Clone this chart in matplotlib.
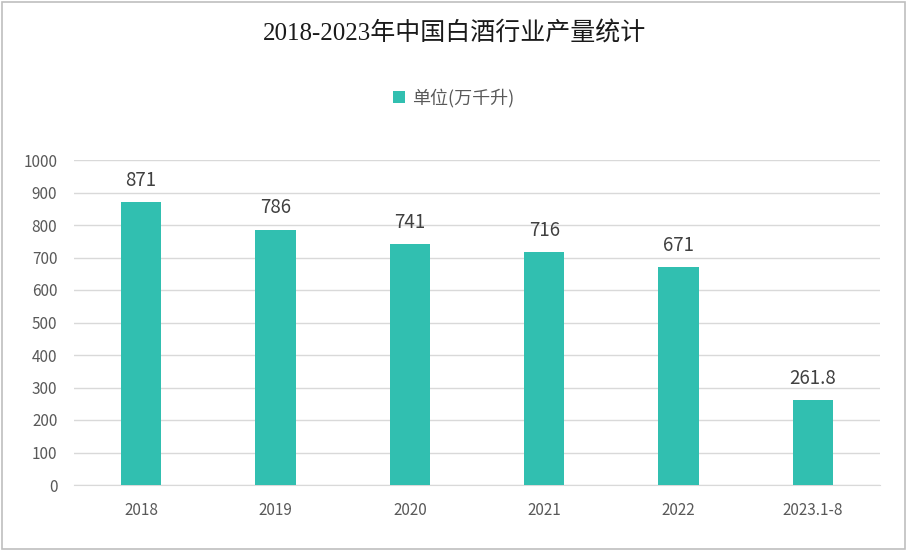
import matplotlib.pyplot as plt
from matplotlib.patches import Rectangle

plt.rcParams['font.family'] = ['Noto Sans CJK SC', 'DejaVu Sans']

categories = ['2018', '2019', '2020', '2021', '2022', '2023.1-8']
values = [871, 786, 741, 716, 671, 261.8]
value_labels = ['871', '786', '741', '716', '671', '261.8']
series_name = '单位(万千升)'
title = '2018-2023年中国白酒行业产量统计'
yticks = list(range(0, 1001, 100))

bar_color = '#31BFB0'
text_color = '#595959'

fig = plt.figure(figsize=(9.08, 5.52), dpi=100)
ax = fig.add_axes([74 / 908, 67 / 552, 806 / 908, 325 / 552])

x = range(len(categories))
ax.bar(x, values, width=0.3, color=bar_color, label=series_name, zorder=3)
for xi, v, lab in zip(x, values, value_labels):
    ax.text(xi, v + 35, lab, ha='center', va='bottom', fontsize=13.5, color='#404040')

ax.set_xlim(-0.5, len(categories) - 0.5)
ax.set_ylim(0, 1000)
ax.set_yticks(yticks)
ax.set_xticks(list(x))
ax.set_xticklabels(categories)
ax.tick_params(axis='both', length=0, labelsize=11, colors=text_color)
ax.tick_params(axis='x', pad=12)
ax.tick_params(axis='y', pad=12)
ax.grid(axis='y', color='#d9d9d9', linewidth=1, zorder=0)
for side in ['top', 'right', 'left']:
    ax.spines[side].set_visible(False)
ax.spines['bottom'].set_color('#d9d9d9')

fig.text(0.5, 1 - 33 / 552, title, ha='center', va='center', fontsize=18,
         family=['Liberation Serif', 'Noto Sans CJK SC'], color='#1a1a1a')
fig.legend(loc='center', bbox_to_anchor=(0.5, 1 - 98 / 552), frameon=False,
           fontsize=13, labelcolor=text_color, handlelength=0.65, handleheight=0.65,
           handletextpad=0.4)

fig.add_artist(Rectangle((2 / 908, 3 / 552), 903 / 908, 547 / 552,
                         transform=fig.transFigure, fill=False,
                         edgecolor='#bfbfbf', linewidth=1.2))

fig.savefig('out.png', dpi=100)
